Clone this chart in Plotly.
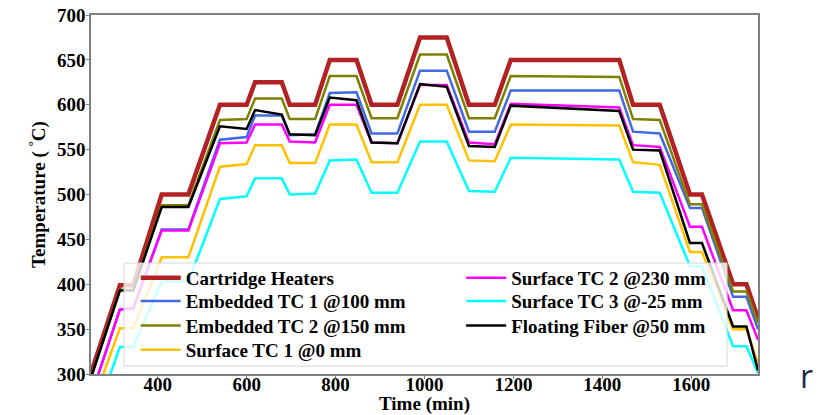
import plotly.graph_objects as go

# time breakpoints (min)
time_min = [250, 315, 345, 409, 469, 540, 600, 619, 679, 697, 754, 787, 847, 881,
            939, 990, 1050, 1100, 1158, 1194, 1438, 1469, 1529, 1597, 1624, 1694, 1724, 1750]

cartridge = [301, 399, 399, 500, 500, 600, 600, 625, 625, 600, 600, 650, 650, 600,
             600, 675, 675, 600, 600, 650, 650, 600, 600, 500, 500, 400, 400, 362]
emb_tc1 = [275, 372, 373, 461, 461, 561, 564, 588, 588, 566, 567, 613, 614, 568,
           568, 638, 638, 570, 570, 616, 616, 570, 568, 485, 485, 386, 386, 350]
emb_tc2 = [296, 394, 394, 488, 488, 583, 584, 607, 607, 584, 584, 632, 632, 585,
           585, 656, 656, 585, 585, 632, 631, 584, 583, 489, 489, 392, 392, 357]
surf_tc1 = [262, 351, 351, 430, 430, 531, 534, 555, 555, 535, 535, 578, 578, 536,
            536, 600, 600, 538, 537, 578, 577, 536, 533, 436, 436, 350, 350, 312]
surf_tc2 = [275, 372, 373, 460, 460, 557, 558, 578, 578, 559, 558, 600, 600, 558,
            557, 622, 622, 558, 556, 601, 597, 555, 553, 464, 464, 371, 371, 338]
surf_tc3 = [240, 330, 330, 403, 403, 495, 498, 518, 518, 500, 501, 538, 539, 502,
            502, 559, 559, 504, 503, 541, 539, 503, 502, 420, 420, 331, 331, 301]
fiber = [296, 393, 393, 486, 486, 576, 573, 594, 589, 567, 566, 608, 605, 558,
         557, 623, 620, 554, 553, 599, 593, 550, 549, 446, 446, 353, 353, 304]

x_ticks = [400, 600, 800, 1000, 1200, 1400, 1600]
y_ticks = [300, 350, 400, 450, 500, 550, 600, 650, 700]

names = ["Cartridge Heaters", "Embedded TC 1 @100 mm", "Embedded TC 2 @150 mm",
         "Surface TC 1 @0 mm", "Surface TC 2 @230 mm", "Surface TC 3 @-25 mm",
         "Floating Fiber @50 mm"]
values = [cartridge, emb_tc1, emb_tc2, surf_tc1, surf_tc2, surf_tc3, fiber]
colors = ["#b22222", "#4169e1", "#808000", "#ffc000", "#ff00ff", "#00ffff", "#000000"]
widths = [4.5, 2.5, 2.5, 2.5, 2.5, 2.5, 2.5]

# legend slots (paper coords): two columns, column-major like the reference
col_x = [0.067, 0.067, 0.067, 0.067, 0.555, 0.555, 0.555]
row_y = [0.268, 0.203, 0.1345, 0.067, 0.268, 0.203, 0.1345]

serif = "Liberation Serif"
bold_font = dict(family=serif, size=19, color="black", weight="bold")

fig = go.Figure()
legend_layout = {}
for i, (name, vals, color, w) in enumerate(zip(names, values, colors, widths)):
    key = "legend" if i == 0 else f"legend{i + 1}"
    fig.add_trace(go.Scatter(x=time_min, y=vals, mode="lines", name=name,
                             line=dict(color=color, width=w), legend=key))
    legend_layout[key] = dict(x=col_x[i], y=row_y[i], xanchor="left", yanchor="middle",
                              bgcolor="rgba(0,0,0,0)", font=bold_font, itemwidth=40,
                              borderwidth=0)

# page body has an 8px margin: figure is sized/margined so the plot area lands
# at the reference position in the 826x415 window
fig.update_layout(
    width=818, height=407,
    margin=dict(l=83, r=68, t=7, b=41),
    paper_bgcolor="white", plot_bgcolor="white",
    showlegend=True,
    shapes=[dict(type="rect", xref="paper", yref="paper",
                 x0=0.0495, x1=0.9535, y0=0.022, y1=0.309, layer="above",
                 fillcolor="rgba(255,255,255,0.8)",
                 line=dict(color="#d8d8d8", width=1))],
    annotations=[dict(text="r", xref="paper", yref="paper", x=1.073, y=-0.005,
                      xanchor="center", yanchor="middle", showarrow=False,
                      font=dict(family="Open Sans", size=32, color="#1c2b4f"))],
    **legend_layout,
)

tick_font = dict(family=serif, size=19, color="black", weight="bold")
fig.update_xaxes(range=[250, 1750], tickvals=x_ticks, ticks="outside", ticklen=3,
                 tickcolor="#808080", showline=True, linecolor="#808080", linewidth=1.5,
                 mirror=True, showgrid=False, zeroline=False, tickfont=tick_font,
                 ticklabelstandoff=-11, ticklabeloverflow="allow",
                 title=dict(text="Time (min)", font=bold_font, standoff=0), automargin=False)
fig.update_yaxes(range=[300, 700], tickvals=y_ticks, ticks="outside", ticklen=3,
                 tickcolor="#808080", showline=True, linecolor="#808080", linewidth=1.5,
                 mirror=True, showgrid=False, zeroline=False, tickfont=tick_font,
                 ticklabelstandoff=-3, ticklabeloverflow="allow",
                 title=dict(text="Temperature ( <sup>°</sup>C)", font=bold_font, standoff=6),
                 automargin=False)

fig.write_html("out.html")
